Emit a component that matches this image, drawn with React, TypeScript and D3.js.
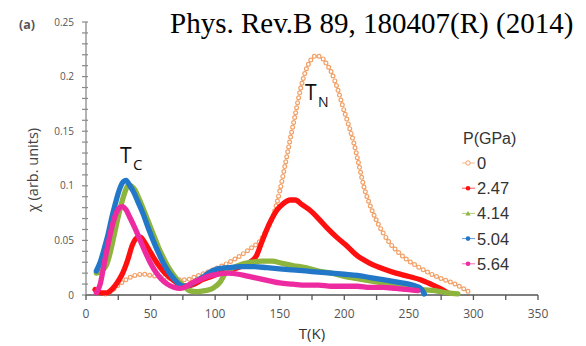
import React from "react";
import * as d3 from "d3";

const W = 586;
const H = 346;

const title = "Phys. Rev.B 89, 180407(R) (2014)";
const xTickValues = [0, 50, 100, 150, 200, 250, 300, 350];
const yTickValues = [0, 0.05, 0.1, 0.15, 0.2, 0.25];
const yTickLabels = ["0", "0.05", "0.1", "0.15", "0.2", "0.25"];
const pressures = ["0", "2.47", "4.14", "5.04", "5.64"];
const colors = ["#f2a066", "#ff1010", "#8db43c", "#2277c8", "#ee2aa0"];

// P = 0 GPa  [T(K), chi]
const s0: [number, number][] = [
  [15, 0.001], [20, 0.004], [25, 0.009], [31, 0.014], [38, 0.018], [44, 0.019],
  [50, 0.018], [56, 0.017], [62, 0.016], [70, 0.014], [78, 0.014], [85, 0.017],
  [92, 0.02], [98, 0.023], [106, 0.027], [114, 0.032], [122, 0.038], [128, 0.043],
  [135, 0.05], [140, 0.06], [145, 0.073], [150, 0.095], [154, 0.118], [158, 0.142],
  [162, 0.165], [166, 0.188], [170, 0.205], [174, 0.215], [178, 0.219], [182, 0.218],
  [186, 0.212], [190, 0.204], [195, 0.188], [199, 0.172], [203, 0.157], [207, 0.141],
  [211, 0.121], [215, 0.1], [220, 0.082], [225, 0.068], [230, 0.057], [235, 0.048],
  [242, 0.039], [249, 0.032], [257, 0.026], [266, 0.02], [275, 0.015], [284, 0.011],
  [292, 0.006], [299, 0.001],
];
// P = 2.47 GPa
const s1: [number, number][] = [
  [7, 0.005], [12, 0.002], [16, 0.002], [20, 0.005], [24, 0.011], [28, 0.019],
  [32, 0.031], [36, 0.046], [39, 0.052], [42, 0.053], [45, 0.049], [49, 0.041],
  [53, 0.033], [57, 0.026], [62, 0.019], [67, 0.014], [72, 0.01], [78, 0.008],
  [84, 0.01], [90, 0.014], [97, 0.017], [104, 0.02], [112, 0.023], [120, 0.026],
  [127, 0.03], [132, 0.036], [136, 0.048], [140, 0.06], [144, 0.07], [148, 0.078],
  [153, 0.084], [158, 0.087], [162, 0.087], [167, 0.083], [173, 0.078], [180, 0.07],
  [187, 0.061], [194, 0.053], [201, 0.046], [210, 0.036], [220, 0.029], [230, 0.024],
  [240, 0.02], [250, 0.017], [259, 0.014], [267, 0.01], [274, 0.006], [280, 0.002],
];
// P = 4.14 GPa
const s2: [number, number][] = [
  [8, 0.02], [12, 0.022], [16, 0.028], [19, 0.04], [22, 0.056], [25, 0.072],
  [28, 0.086], [31, 0.097], [33, 0.101], [35, 0.1], [38, 0.096], [40, 0.091],
  [44, 0.08], [48, 0.068], [52, 0.056], [56, 0.044], [60, 0.034], [64, 0.025],
  [68, 0.018], [72, 0.012], [76, 0.008], [80, 0.004], [86, 0.003], [92, 0.004],
  [98, 0.006], [104, 0.012], [108, 0.02], [114, 0.025], [120, 0.028], [128, 0.03],
  [136, 0.031], [144, 0.031], [152, 0.029], [160, 0.027], [170, 0.025], [180, 0.022],
  [190, 0.02], [200, 0.017], [210, 0.015], [220, 0.013], [230, 0.011], [240, 0.009],
  [250, 0.007], [260, 0.005], [270, 0.004], [280, 0.002], [288, 0.001],
];
// P = 5.04 GPa
const s3: [number, number][] = [
  [8, 0.022], [11, 0.03], [14, 0.042], [17, 0.055], [20, 0.071], [23, 0.085],
  [26, 0.097], [29, 0.104], [31, 0.105], [34, 0.1], [37, 0.094], [40, 0.086],
  [44, 0.075], [48, 0.062], [52, 0.05], [56, 0.039], [60, 0.029], [64, 0.021],
  [68, 0.015], [72, 0.01], [76, 0.008], [80, 0.009], [84, 0.012], [90, 0.016],
  [96, 0.021], [102, 0.024], [110, 0.025], [120, 0.026], [130, 0.026], [140, 0.025],
  [150, 0.024], [160, 0.023], [170, 0.022], [180, 0.021], [190, 0.02], [200, 0.019],
  [210, 0.018], [220, 0.016], [230, 0.014], [240, 0.012], [250, 0.01], [256, 0.008],
  [260, 0.005], [262, 0.001],
];
// P = 5.64 GPa
const s4: [number, number][] = [
  [8, 0.002], [11, 0.01], [14, 0.028], [17, 0.046], [20, 0.062], [23, 0.074],
  [26, 0.08], [28, 0.081], [31, 0.078], [34, 0.071], [38, 0.061], [42, 0.05],
  [46, 0.039], [50, 0.029], [54, 0.021], [58, 0.015], [63, 0.01], [68, 0.007],
  [73, 0.006], [78, 0.008], [82, 0.011], [88, 0.014], [94, 0.017], [102, 0.019],
  [110, 0.02], [118, 0.019], [126, 0.017], [134, 0.015], [142, 0.013], [150, 0.011],
  [160, 0.01], [170, 0.009], [180, 0.009], [190, 0.008], [200, 0.008], [210, 0.008],
  [220, 0.007], [230, 0.007], [240, 0.006], [250, 0.005], [257, 0.004],
];
const series = [s0, s1, s2, s3, s4];

export default function App() {
  const x = d3.scaleLinear().domain([0, 350]).range([86, 538]);
  const y = d3.scaleLinear().domain([0, 0.25]).range([295, 22]);
  const line = d3
    .line<[number, number]>()
    .x((d) => x(d[0]))
    .y((d) => y(d[1]))
    .curve(d3.curveMonotoneX);

  const minorX = d3.range(0, 351, 25);
  const minorY = d3.range(0, 0.2501, 0.01);
  const axisColor = "#8a8a8a";
  const tickFont = "'Open Sans', sans-serif";

  return (
    <svg
      width={W}
      height={H}
      style={{ position: "absolute", left: 0, top: 0, background: "#fff" }}
    >
      <rect x={0} y={0} width={W} height={H} fill="#fff" />
      <text x={170} y={33} fontFamily="'Liberation Serif', serif" fontSize={29} fill="#000">
        {title}
      </text>
      <text x={19} y={29} fontFamily={tickFont} fontSize={12.5} fontWeight="bold" fill="#555">
        (a)
      </text>

      {/* axes */}
      <line x1={x(0)} x2={x(0)} y1={y(0)} y2={y(0.25)} stroke={axisColor} strokeWidth={1.3} />
      <line x1={x(0)} x2={x(350)} y1={y(0)} y2={y(0)} stroke="#555" strokeWidth={1.6} />
      {minorY.map((v, i) => (
        <line key={"my" + i} x1={x(0) - 4} x2={x(0) + 2} y1={y(v)} y2={y(v)} stroke={axisColor} strokeWidth={1.2} />
      ))}
      {minorX.map((v, i) => (
        <line key={"mx" + i} x1={x(v)} x2={x(v)} y1={y(0)} y2={y(0) + 5} stroke="#555" strokeWidth={1.3} />
      ))}
      {yTickValues.map((v, i) => (
        <text key={"yt" + i} x={x(0) - 12} y={y(v) + 3.5} textAnchor="end" fontFamily={tickFont} fontSize={10} fill="#555">
          {yTickLabels[i]}
        </text>
      ))}
      {xTickValues.map((v, i) => (
        <text key={"xt" + i} x={x(v)} y={318} textAnchor="middle" fontFamily={tickFont} fontSize={12} fill="#555">
          {v}
        </text>
      ))}
      <text x={312} y={339} textAnchor="middle" fontFamily={tickFont} fontSize={15} fill="#333">
        T(K)
      </text>
      <text
        transform={`translate(38,170) rotate(-90)`}
        textAnchor="middle"
        fontFamily={tickFont}
        fontSize={14.5}
        fill="#444"
      >
        χ (arb. units)
      </text>

      {/* series 0: open circles */}
      <path d={line(s0) || ""} fill="none" stroke={colors[0]} strokeWidth={5} strokeLinecap="round" strokeDasharray="0 5" />
      <path d={line(s0) || ""} fill="none" stroke="#fff" strokeWidth={2.6} strokeLinecap="round" strokeDasharray="0 5" />
      {series.slice(1).map((s, i) => (
        <path
          key={"s" + i}
          d={line(s) || ""}
          fill="none"
          stroke={colors[i + 1]}
          strokeWidth={5.3}
          strokeLinecap="round"
          strokeLinejoin="round"
        />
      ))}

      {/* annotations */}
      <text x={120} y={163} fontFamily={tickFont} fontSize={21} fill="#111">T</text>
      <text x={133} y={170} fontFamily={tickFont} fontSize={15} fill="#111">C</text>
      <text x={305} y={100} fontFamily={tickFont} fontSize={21} fill="#111">T</text>
      <text x={318} y={107} fontFamily={tickFont} fontSize={14} fill="#111">N</text>

      {/* legend */}
      <text x={463} y={144} fontFamily="'Liberation Sans', sans-serif" fontSize={16} fill="#333">
        P(GPa)
      </text>
      {pressures.map((p, i) => {
        const cy = 163 + i * 25.2;
        return (
          <g key={"lg" + i}>
            <line x1={462} x2={475} y1={cy} y2={cy} stroke={colors[i]} strokeWidth={1} opacity={0.7} />
            {i === 0 && <circle cx={468} cy={cy} r={2.2} fill="#fff" stroke={colors[i]} strokeWidth={1} />}
            {i === 2 && (
              <path d={`M${468 - 2.5},${cy + 2} L${468 + 2.5},${cy + 2} L468,${cy - 2.5} Z`} fill={colors[i]} />
            )}
            {i !== 0 && i !== 2 && <circle cx={468} cy={cy} r={2.3} fill={colors[i]} />}
            <text x={477} y={cy + 6} fontFamily="'Liberation Sans', sans-serif" fontSize={16.5} fill="#333">
              {p}
            </text>
          </g>
        );
      })}
    </svg>
  );
}
